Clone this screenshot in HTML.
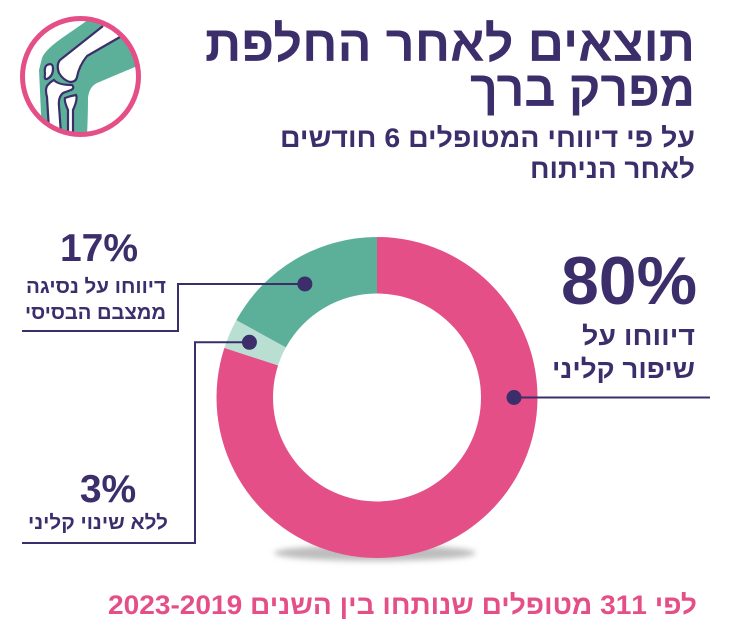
<!DOCTYPE html>
<html lang="he">
<head>
<meta charset="utf-8">
<title>תוצאים לאחר החלפת מפרק ברך</title>
<style>
html,body{margin:0;padding:0;background:#fff;width:730px;height:630px;overflow:hidden}
svg{display:block}
text{font-family:"Liberation Sans","DejaVu Sans",sans-serif;font-weight:700;direction:rtl;fill:#3b2e6b}
</style>
</head>
<body>
<svg id="chart" width="730" height="630" viewBox="0 0 730 630" xmlns="http://www.w3.org/2000/svg">
<defs>
<clipPath id="iconClip"><circle cx="80.5" cy="76.5" r="58"/></clipPath>
<filter id="shadowBlur" x="-20%" y="-100%" width="140%" height="300%"><feGaussianBlur stdDeviation="3"/></filter>
</defs>
<g>
<g clip-path="url(#iconClip)">
<path fill="#5cb09a" d="M88 20 L62 38 Q45 50 42 58 L39 70 L42 135 L87 135 Q88 115 88 98 Q89 87 97 83 L142 64 L125 20 Z"/>
<path fill="#fff" d="M103 26 L60 60 Q56 65 59 73 Q63 80 70 82 Q76 82 77 77 Q79 66 87 56 L120 37 L128 20 L106 15 Z"/>
<path fill="none" stroke="#3b2e6b" stroke-width="2.2" d="M103 26 L60 60 Q56 65 59 73 Q63 80 70 82 Q76 82 77 77 Q79 66 87 56 L120 37"/>
<path fill="#fff" stroke="#3b2e6b" stroke-width="2.2" d="M47 65 Q53 62 53 69 Q53 76 47 79 Q44 80 45 74 Q44 67 47 65 Z"/>
<path fill="#fff" stroke="#3b2e6b" stroke-width="2.2" d="M49 130 L47 97 Q45 90 47 86 Q50 82 54 80 Q58 85 72 85 Q75 88 71 90 L63 93 Q58 97 59 106 L61 134 Z"/>
<path fill="#fff" stroke="#3b2e6b" stroke-width="2.2" d="M68 136 L68 110 Q64 101 65 98 Q70 96 76 95 Q78 99 73 110 L73 136 Z"/>
</g>
<circle cx="80.5" cy="76.5" r="58" fill="none" stroke="#e54f87" stroke-width="5"/>
</g>

<g>
<text x="695" y="61" text-anchor="start" font-size="50" textLength="490" lengthAdjust="spacingAndGlyphs">תוצאים לאחר החלפת</text>
<text x="695" y="106" text-anchor="start" font-size="50" textLength="225" lengthAdjust="spacingAndGlyphs">מפרק ברך</text>
<text x="695" y="147" text-anchor="start" font-size="27" textLength="415" lengthAdjust="spacingAndGlyphs">על פי דיווחי המטופלים 6 חודשים</text>
<text x="695" y="178" text-anchor="start" font-size="27" textLength="165" lengthAdjust="spacingAndGlyphs">לאחר הניתוח</text>
</g>

<ellipse cx="375" cy="553" rx="101" ry="8" fill="#bdbdbd" filter="url(#shadowBlur)"/>
<g id="slices"></g>
<g id="leaders"></g>

<g>
<text id="value-0" x="695" y="304" text-anchor="middle" font-size="68" style="direction:ltr" transform="translate(-66 0)"></text>
<text x="695" y="345" font-size="26" textLength="113" lengthAdjust="spacingAndGlyphs">דיווחו על</text>
<text x="695" y="378" font-size="26" textLength="143" lengthAdjust="spacingAndGlyphs">שיפור קליני</text>
</g>
<g>
<text id="value-2" x="99" y="261" text-anchor="middle" font-size="39" style="direction:ltr"></text>
<text x="166" y="293" font-size="20" textLength="140" lengthAdjust="spacingAndGlyphs">דיווחו על נסיגה</text>
<text x="166" y="319" font-size="20" textLength="141" lengthAdjust="spacingAndGlyphs">ממצבם הבסיסי</text>
</g>
<g>
<text id="value-1" x="108" y="502" text-anchor="middle" font-size="39" style="direction:ltr"></text>
<text x="168" y="529" font-size="20" textLength="140" lengthAdjust="spacingAndGlyphs">ללא שינוי קליני</text>
</g>

<text x="697" y="614" font-size="27" style="fill:#e54f87" textLength="589" lengthAdjust="spacingAndGlyphs">לפי 311 מטופלים שנותחו בין השנים 2023-2019</text>
</svg>
<script>
const categories = ['שיפור קליני', 'ללא שינוי קליני', 'נסיגה'];
const seriesValues = [80, 3, 17];
const valueLabels = ['80%', '3%', '17%'];

const sliceColors = ['#e54f87', '#b9dfd2', '#5cb09a'];
const NS = 'http://www.w3.org/2000/svg';
const cx = 377, cy = 397.5, rOuter = 160.5, rInner = 104;
const total = seriesValues.reduce((a, b) => a + b, 0);

function angleScale(v) { return v / total * 2 * Math.PI; }
function polar(r, a) { return [cx + r * Math.sin(a), cy - r * Math.cos(a)]; }
function arcPath(a0, a1) {
  const large = a1 - a0 > Math.PI ? 1 : 0;
  const p0 = polar(rOuter, a0), p1 = polar(rOuter, a1), p2 = polar(rInner, a1), p3 = polar(rInner, a0);
  return 'M' + p0[0] + ' ' + p0[1] + 'A' + rOuter + ' ' + rOuter + ' 0 ' + large + ' 1 ' + p1[0] + ' ' + p1[1] +
    'L' + p2[0] + ' ' + p2[1] + 'A' + rInner + ' ' + rInner + ' 0 ' + large + ' 0 ' + p3[0] + ' ' + p3[1] + 'Z';
}

const slices = document.getElementById('slices');
const leaders = document.getElementById('leaders');
const anchorShare = [0.3125, 0.5, 0.47];
const anchorRadius = [137, 139, 134.5];
let start = 0;
seriesValues.forEach((v, i) => {
  const end = start + angleScale(v);
  const path = document.createElementNS(NS, 'path');
  path.setAttribute('d', arcPath(start, end));
  path.setAttribute('fill', sliceColors[i]);
  
  
  const title = document.createElementNS(NS, 'title');
  title.textContent = categories[i] + ' ' + valueLabels[i];
  path.appendChild(title);
  slices.appendChild(path);

  const p = polar(anchorRadius[i], start + (end - start) * anchorShare[i]);
  let d;
  if (i === 0) d = 'M' + p[0] + ' ' + p[1] + 'H710';
  if (i === 1) d = 'M' + p[0] + ' ' + p[1] + 'H195V543H22';
  if (i === 2) d = 'M' + p[0] + ' ' + p[1] + 'H178V331H22';
  const line = document.createElementNS(NS, 'path');
  line.setAttribute('d', d);
  line.setAttribute('fill', 'none');
  line.setAttribute('stroke', '#3b2e6b');
  line.setAttribute('stroke-width', '2');
  
  
  leaders.appendChild(line);

  const dot = document.createElementNS(NS, 'circle');
  dot.setAttribute('cx', p[0]);
  dot.setAttribute('cy', p[1]);
  dot.setAttribute('r', '7.5');
  dot.setAttribute('fill', '#3b2e6b');
  
  
  leaders.appendChild(dot);

  document.getElementById('value-' + i).textContent = valueLabels[i];
  start = end;
});
</script>
</body>
</html>
